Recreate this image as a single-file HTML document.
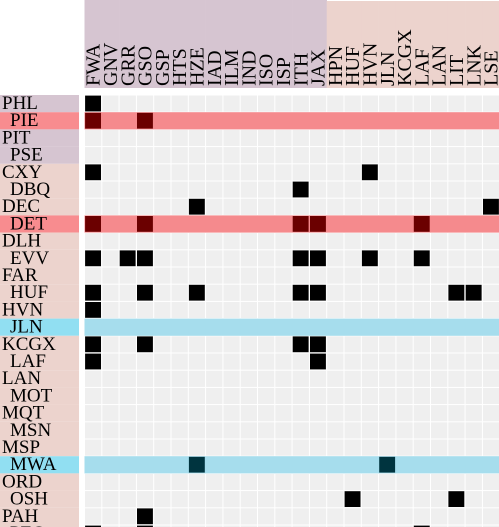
<!DOCTYPE html>
<html><head><meta charset="utf-8">
<style>
html,body{margin:0;padding:0;background:#fff;width:499px;height:527px;overflow:hidden}
svg{display:block;font-family:"Liberation Serif",serif}
</style></head>
<body>
<svg id="chart" width="499" height="527" viewBox="0 0 499 527"></svg>
<script>
const colLabels=["FWA","GNV","GRR","GSO","GSP","HTS","HZE","IAD","ILM","IND","ISO","ISP","ITH","JAX","HPN","HUF","HVN","JLN","KCGX","LAF","LAN","LIT","LNK","LSE"];
const colGroups=[0,0,0,0,0,0,0,0,0,0,0,0,0,0,1,1,1,1,1,1,1,1,1,1];
const rowLabels=["PHL","PIE","PIT","PSE","CXY","DBQ","DEC","DET","DLH","EVV","FAR","HUF","HVN","JLN","KCGX","LAF","LAN","MOT","MQT","MSN","MSP","MWA","ORD","OSH","PAH","PEO"];
const rowGroups=[0,0,0,0,1,1,1,1,1,1,1,1,1,1,1,1,1,1,1,1,1,1,1,1,1,1];
const highlightRows={"PIE":"red","DET":"red","JLN":"blue","MWA":"blue"};
const links=[
 ["PHL",["FWA"]],["PIE",["FWA","GSO"]],["PIT",[]],["PSE",[]],
 ["CXY",["FWA","HVN"]],["DBQ",["ITH"]],["DEC",["HZE","LSE"]],
 ["DET",["FWA","GSO","ITH","JAX","LAF"]],["DLH",[]],
 ["EVV",["FWA","GRR","GSO","ITH","JAX","HVN","LAF"]],["FAR",[]],
 ["HUF",["FWA","GSO","HZE","ITH","JAX","LIT","LNK"]],["HVN",["FWA"]],["JLN",[]],
 ["KCGX",["FWA","GSO","ITH","JAX"]],["LAF",["FWA","JAX"]],
 ["LAN",[]],["MOT",[]],["MQT",[]],["MSN",[]],["MSP",[]],
 ["MWA",["HZE","JLN"]],["ORD",[]],["OSH",["HUF","LIT"]],["PAH",["GSO"]],
 ["PEO",["FWA","GSO","LAF"]]
];
const NS="http://www.w3.org/2000/svg";
const svg=document.getElementById("chart");
const x0=84.5,cw=17.3,y0=95,rh=17.2;
const xPos=i=>x0+i*cw, yPos=j=>y0+j*rh;
function mk(tag,attrs,parent){const e=document.createElementNS(NS,tag);for(const k in attrs)e.setAttribute(k,attrs[k]);(parent||svg).appendChild(e);return e;}
const groupColors=["#d6c5d1","#ecd3cd"];
colLabels.forEach((c,i)=>{
  const r=mk("rect",{x:xPos(i),y:colGroups[i]?1:0,width:cw+0.3,height:colGroups[i]?87:88,fill:groupColors[colGroups[i]]});
  
  
  const t=mk("text",{x:0,y:0,"font-size":"20",fill:"#000",transform:`translate(${xPos(i)+cw/2+6.5},86) rotate(-90)`});
  t.textContent=c;
  
  
});
rowLabels.forEach((r,j)=>{
  const hl=highlightRows[r];
  const fill=hl==="red"?"#f88c8f":hl==="blue"?"#91dff2":groupColors[rowGroups[j]];
  const b=mk("rect",{x:0,y:yPos(j),width:79,height:rh,fill:fill});
  
  
  const t=mk("text",{x:j%2?10:2,y:yPos(j)+14,"font-size":"19",fill:"#000"});
  t.textContent=r;
  
  
});
rowLabels.forEach((r,j)=>{
  colLabels.forEach((c,i)=>{
    const cell=mk("rect",{x:xPos(i)+0.5,y:yPos(j)+0.5,width:cw-1,height:rh-1,fill:"#efefef"});
    
    
  });
});
rowLabels.forEach((r,j)=>{
  const hl=highlightRows[r];
  if(!hl)return;
  const band=mk("rect",{x:x0,y:yPos(j),width:499-x0,height:rh,fill:hl==="red"?"#f58a8d":"#a6dded"});
  
  
});
links.forEach(([r,cs])=>{
  const j=rowLabels.indexOf(r);
  const hl=highlightRows[r];
  const fill=hl==="red"?"#6b0000":hl==="blue"?"#00343f":"#000";
  cs.forEach(c=>{
    const i=colLabels.indexOf(c);
    const m=mk("rect",{x:xPos(i)+0.6,y:yPos(j)+0.6,width:cw-1.4,height:rh-1.4,fill:fill});
    
    
  });
});
</script>
</body></html>
